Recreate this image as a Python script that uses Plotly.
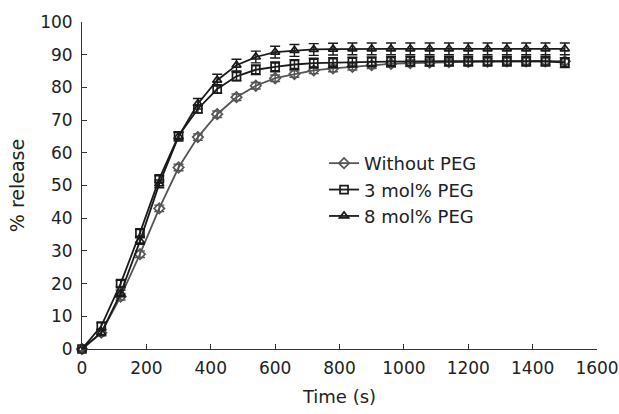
import plotly.graph_objects as go

time_s = [0, 60, 120, 180, 240, 300, 360, 420, 480, 540, 600, 660, 720, 780, 840, 900,
          960, 1020, 1080, 1140, 1200, 1260, 1320, 1380, 1440, 1500]
without_peg = [0, 5, 16, 29, 43, 55.5, 64.8, 71.8, 77, 80.5, 82.8, 84.1, 85.2, 85.8, 86.3, 86.8,
               87.2, 87.4, 87.6, 87.7, 87.8, 87.9, 88, 88, 88, 88]
without_err = [0, 0.8, 1, 1, 1, 1, 1, 1, 1, 1, 1, 1, 1, 1, 1, 1, 1, 1, 1, 1, 1, 1, 1, 1, 1, 1]
peg3 = [0, 7, 20, 35.5, 52, 65.2, 73.4, 79.5, 83.4, 85.4, 86.3, 87, 87.4, 87.6, 87.7, 87.8,
        87.9, 88, 88, 88, 88, 88, 88, 88, 88, 87.6]
peg3_err = [0, 1, 1, 1, 1, 1, 1.2, 1.3, 1.4, 1.5, 1.5, 1.5, 1.5, 1.5, 1.5, 1.5, 1.5, 1.5, 1.5,
            1.5, 1.5, 1.5, 1.5, 1.5, 1.5, 1.5]
peg8 = [0, 5, 17, 33, 50.5, 65, 75, 82.2, 86.8, 89.3, 90.8, 91.3, 91.6, 91.7, 91.8, 91.8,
        91.8, 91.8, 91.8, 91.8, 91.8, 91.8, 91.8, 91.8, 91.8, 91.8]
peg8_err = [0, 1, 1, 1, 1.2, 1.4, 1.6, 1.8, 1.8, 1.8, 1.8, 1.8, 1.8, 1.8, 1.8, 1.8, 1.8, 1.8,
            1.8, 1.8, 1.8, 1.8, 1.8, 1.8, 1.8, 1.8]

series = [
    ("Without PEG", without_peg, without_err, "diamond-open", "#555555"),
    ("3 mol% PEG", peg3, peg3_err, "square-open", "#1a1a1a"),
    ("8 mol% PEG", peg8, peg8_err, "triangle-up-open", "#1a1a1a"),
]

fig = go.Figure()
for name, ys, errs, sym, col in series:
    fig.add_trace(go.Scatter(
        x=time_s, y=ys, name=name, mode="lines+markers",
        line=dict(color=col, width=1.8),
        marker=dict(symbol=sym, size=8, color=col, line=dict(width=1.7, color=col)),
        error_y=dict(type="data", array=errs, visible=True, color=col, thickness=1.4, width=5),
        cliponaxis=False,
    ))

font = "DejaVu Sans, Open Sans, sans-serif"
fig.update_layout(
    width=619, height=414,
    margin=dict(l=82, r=22, t=22, b=65),
    paper_bgcolor="white", plot_bgcolor="white",
    font=dict(family=font, size=17, color="#222222"),
    showlegend=True,
    legend=dict(x=0.47, y=0.624, xanchor="left", yanchor="top",
                font=dict(size=18, color="#222222"), bgcolor="rgba(0,0,0,0)",
                tracegroupgap=0, itemsizing="trace", itemwidth=30),
    xaxis=dict(range=[0, 1600], tickvals=list(range(0, 1601, 200)),
               showgrid=False, zeroline=False, showline=True, linecolor="#333333",
               linewidth=1, ticks="inside", ticklen=5, tickcolor="#333333",
               automargin=False, ticklabelstandoff=4,
               title=dict(text="Time (s)", standoff=12, font=dict(size=18))),
    yaxis=dict(range=[0, 100], tickvals=list(range(0, 101, 10)),
               showgrid=False, zeroline=False, showline=True, linecolor="#333333",
               linewidth=1, ticks="inside", ticklen=5, tickcolor="#333333",
               automargin=False, ticklabelstandoff=5,
               title=dict(text="% release", standoff=10, font=dict(size=19))),
)

fig.write_html("out.html", config={"displayModeBar": False},
               post_script="document.body.style.margin='0';document.body.style.padding='0';")
